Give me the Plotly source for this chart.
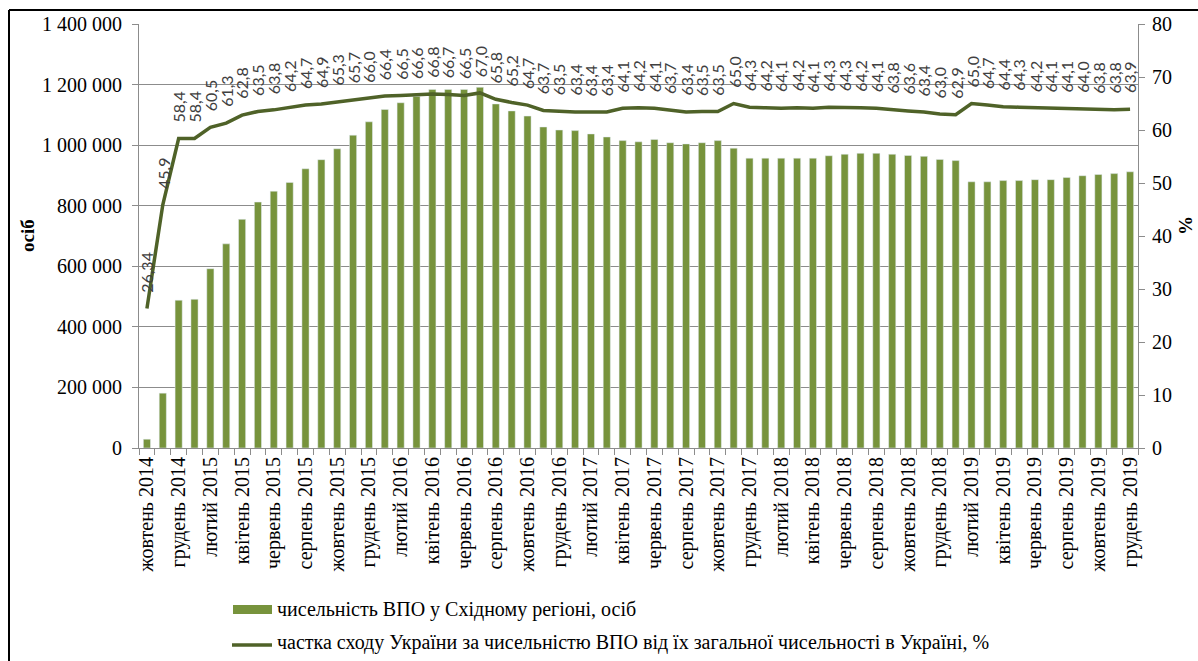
import plotly.graph_objects as go

categories = [
    "жовтень 2014", "листопад 2014", "грудень 2014",
    "січень 2015", "лютий 2015", "березень 2015", "квітень 2015", "травень 2015", "червень 2015",
    "липень 2015", "серпень 2015", "вересень 2015", "жовтень 2015", "листопад 2015", "грудень 2015",
    "січень 2016", "лютий 2016", "березень 2016", "квітень 2016", "травень 2016", "червень 2016",
    "липень 2016", "серпень 2016", "вересень 2016", "жовтень 2016", "листопад 2016", "грудень 2016",
    "січень 2017", "лютий 2017", "березень 2017", "квітень 2017", "травень 2017", "червень 2017",
    "липень 2017", "серпень 2017", "вересень 2017", "жовтень 2017", "листопад 2017", "грудень 2017",
    "січень 2018", "лютий 2018", "березень 2018", "квітень 2018", "травень 2018", "червень 2018",
    "липень 2018", "серпень 2018", "вересень 2018", "жовтень 2018", "листопад 2018", "грудень 2018",
    "січень 2019", "лютий 2019", "березень 2019", "квітень 2019", "травень 2019", "червень 2019",
    "липень 2019", "серпень 2019", "вересень 2019", "жовтень 2019", "листопад 2019", "грудень 2019",
]

idp_east = [
    29000, 181000, 488000, 491000, 592000, 674000, 755000, 812000, 848000,
    877000, 922000, 952000, 988000, 1033000, 1077000, 1118000, 1140000, 1161000,
    1184000, 1184000, 1184000, 1191000, 1136000, 1113000, 1096000, 1060000, 1050000,
    1048000, 1037000, 1027000, 1015000, 1011000, 1019000, 1008000, 1004000, 1008000,
    1015000, 990000, 957000, 957000, 957000, 957000, 957000, 965000, 970000,
    973000, 973000, 970000, 966000, 963000, 953000, 949000, 879000, 879000,
    883000, 883000, 886000, 886000, 893000, 899000, 903000, 906000, 912000,
]

share_east = [
    26.34, 45.9, 58.4, 58.4, 60.5, 61.3, 62.8, 63.5, 63.8,
    64.2, 64.7, 64.9, 65.3, 65.7, 66.0, 66.4, 66.5, 66.6,
    66.8, 66.7, 66.5, 67.0, 65.8, 65.2, 64.7, 63.7, 63.5,
    63.4, 63.4, 63.4, 64.1, 64.2, 64.1, 63.7, 63.4, 63.5,
    63.5, 65.0, 64.3, 64.2, 64.1, 64.2, 64.1, 64.3, 64.3,
    64.2, 64.1, 63.8, 63.6, 63.4, 63.0, 62.9, 65.0, 64.7,
    64.4, 64.3, 64.2, 64.1, 64.1, 64.0, 63.8, 63.8, 63.9,
]

bar_name = "чисельність ВПО у Східному регіоні, осіб"
line_name = "частка сходу України за чисельністю ВПО від їх загальної чисельності в Україні, %"

BAR_COLOR = "#77933C"
LINE_COLOR = "#4F6228"
GRID = "#8C8C8C"
SERIF = "Liberation Serif"

x = list(range(len(categories)))
tick_idx = x[::2]
tick_text = [categories[i] for i in tick_idx]

fig = go.Figure()
fig.add_trace(go.Bar(x=x, y=idp_east, name=bar_name, marker_color=BAR_COLOR,
                     width=0.45, showlegend=False, hoverinfo="skip"))
fig.add_trace(go.Scatter(x=x, y=share_east, name=line_name, yaxis="y2", mode="lines",
                         line=dict(color=LINE_COLOR, width=3.5), showlegend=False,
                         hoverinfo="skip"))

annotations = []
for i, v in enumerate(share_east):
    annotations.append(dict(x=i, y=v, xref="x", yref="y2", text=str(v).replace(".", ","),
                            textangle=-90, showarrow=False, yanchor="bottom", yshift=14,
                            font=dict(family="Lato", size=16, color="#404040")))

def px_x(p):
    return (p - 139) / 999.0

def px_y(p):
    return (448 - p) / 424.0

annotations.append(dict(x=px_x(27), y=px_y(236), xref="paper", yref="paper", text="<b>осіб</b>",
                        textangle=-90, showarrow=False, xanchor="center", yanchor="middle",
                        font=dict(family=SERIF, size=19, color="black")))
annotations.append(dict(x=px_x(1186), y=px_y(226), xref="paper", yref="paper", text="<b>%</b>",
                        textangle=-90, showarrow=False, xanchor="center", yanchor="middle",
                        font=dict(family=SERIF, size=19, color="black")))

annotations.append(dict(x=px_x(275), y=px_y(609), xref="paper", yref="paper", text=bar_name,
                        showarrow=False, xanchor="left", yanchor="middle",
                        font=dict(family=SERIF, size=20, color="black")))
annotations.append(dict(x=px_x(275), y=px_y(642), xref="paper", yref="paper", text=line_name,
                        showarrow=False, xanchor="left", yanchor="middle",
                        font=dict(family=SERIF, size=20, color="black")))

shapes = [
    dict(type="rect", xref="paper", yref="paper", x0=px_x(233), x1=px_x(272),
         y0=px_y(605), y1=px_y(614), fillcolor=BAR_COLOR, line=dict(width=0)),
    dict(type="line", xref="paper", yref="paper", x0=px_x(232), x1=px_x(272),
         y0=px_y(645), y1=px_y(645), line=dict(color=LINE_COLOR, width=3.5)),
    dict(type="line", xref="paper", yref="paper", x0=px_x(9), x1=px_x(1200),
         y0=px_y(10), y1=px_y(10), line=dict(color="black", width=2)),
    dict(type="line", xref="paper", yref="paper", x0=px_x(9), x1=px_x(9),
         y0=px_y(10), y1=px_y(665), line=dict(color="black", width=2)),
]

fig.update_layout(
    width=1198, height=661,
    margin=dict(l=139, r=60, t=24, b=213),
    paper_bgcolor="white", plot_bgcolor="white",
    separators=", ",
    font=dict(family=SERIF, size=18, color="black"),
    xaxis=dict(
        range=[-0.5, len(categories) - 0.5],
        tickmode="array", tickvals=tick_idx, ticktext=tick_text, tickangle=-90,
        ticks="", showgrid=False, showline=True, linecolor=GRID, linewidth=1,
        tickfont=dict(family=SERIF, size=20, color="black"),
        minor=dict(tickmode="linear", tick0=-0.5, dtick=1, ticks="outside",
                   ticklen=6, tickcolor=GRID, tickwidth=1, showgrid=False),
        zeroline=False,
    ),
    yaxis=dict(
        range=[0, 1400000], tickmode="linear", tick0=0, dtick=200000,
        tickformat=",d", showgrid=True, gridcolor=GRID, gridwidth=1,
        showline=True, linecolor=GRID, ticks="outside", ticklen=6, tickcolor=GRID,
        ticklabelstandoff=6,
        tickfont=dict(family=SERIF, size=20, color="black"), zeroline=False,
    ),
    yaxis2=dict(
        range=[0, 80], tickmode="linear", tick0=0, dtick=10, overlaying="y", side="right",
        showgrid=False, showline=True, linecolor=GRID, ticks="outside", ticklen=6,
        tickcolor=GRID, ticklabelstandoff=3,
        tickfont=dict(family=SERIF, size=20, color="black"), zeroline=False,
    ),
    annotations=annotations,
    shapes=shapes,
    showlegend=False,
)

fig.write_html("out.html", config={"displayModeBar": False},
               post_script="document.body.style.margin='0';document.body.style.overflow='hidden';")
